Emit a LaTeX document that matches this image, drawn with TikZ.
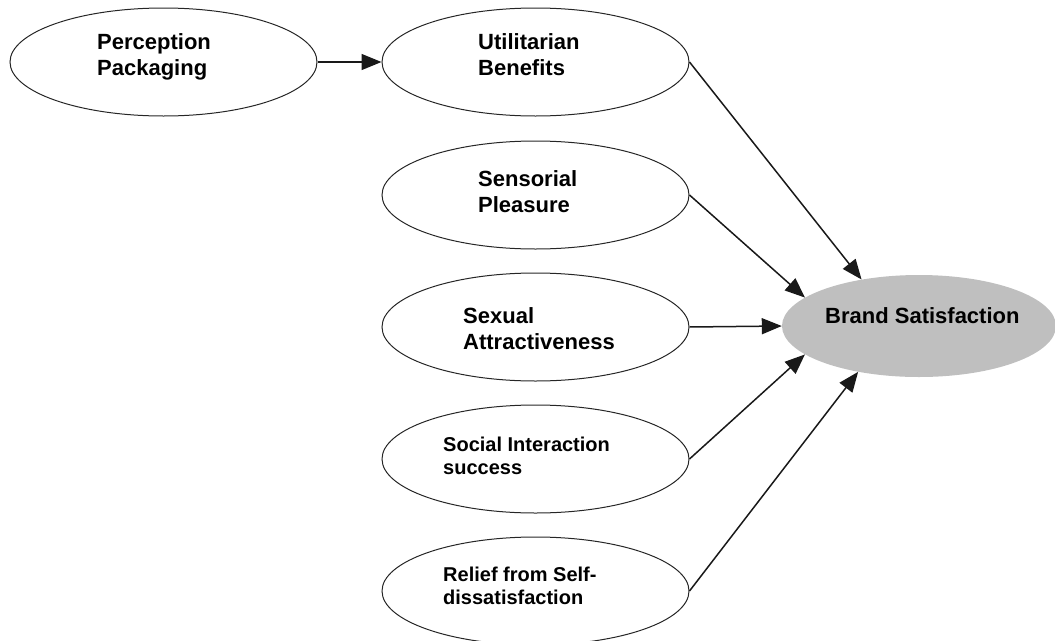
\documentclass[tikz,border=0pt]{standalone}
\usepackage{fontspec}
\setmainfont{Liberation Sans}
\usetikzlibrary{shapes.geometric,arrows.meta}
\tikzset{
  oval/.style={ellipse, draw=black!85, line width=1pt, minimum width=307pt, minimum height=108pt, inner sep=0pt},
  target/.style={ellipse, fill=black!25, draw=none, minimum width=274pt, minimum height=102pt, inner sep=0pt},
  lbl/.style={anchor=north west, inner sep=0pt, align=left, font=\fontsize{22}{26}\selectfont\bfseries},
  lbls/.style={anchor=north west, inner sep=0pt, align=left, font=\fontsize{20}{23}\selectfont\bfseries},
  link/.style={line width=1.5pt, black!90, -{Triangle[length=20pt,width=16pt]}}
}
\begin{document}
\begin{tikzpicture}[x=1pt,y=-1pt]
\useasboundingbox (0,0) rectangle (1055,640);
\clip (0,0) rectangle (1055,640);
\node[oval] (pp) at (163.5,62) {};
\node[oval] (ut) at (535.5,62) {};
\node[oval] (se) at (535.5,195) {};
\node[oval] (sx) at (535.5,327) {};
\node[oval] (so) at (535.5,459) {};
\node[oval] (re) at (535.5,591) {};
\node[target] (bs) at (919,326) {};
\node[lbl] (tpp) at (97,33) {Perception\\Packaging};
\node[lbl] (tut) at (478,33) {Utilitarian\\Benefits};
\node[lbl] (tse) at (478,170) {Sensorial\\Pleasure};
\node[lbl] (tsx) at (463,307) {Sexual\\Attractiveness};
\node[lbls] (tso) at (443,437) {Social Interaction\\success};
\node[lbls] (tre) at (443,567) {Relief from Self-\\dissatisfaction};
\node[lbl] (tbs) at (825,307) {Brand Satisfaction};
\draw[link] (pp.east) -- (ut.west);
\draw[link] (ut.east) -- (bs.141);
\draw[link] (se.east) -- (bs.166);
\draw[link] (sx.east) -- (bs.180);
\draw[link] (so.east) -- (bs.194);
\draw[link] (re.east) -- (bs.217);
\end{tikzpicture}
\end{document}
